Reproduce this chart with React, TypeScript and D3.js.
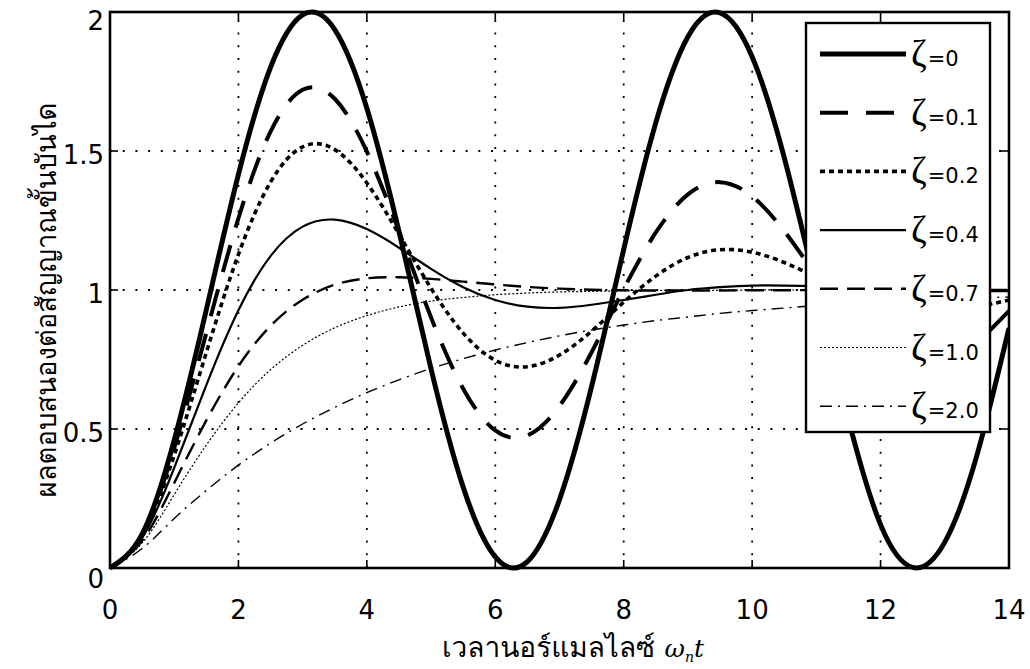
import * as d3 from "d3";

// normalised time ω_n t
const tValues = [
  0, 0.5, 1, 1.5, 2, 2.5, 3, 3.5, 4, 4.5, 5, 5.5, 6, 6.5, 7, 7.5, 8, 8.5, 9, 9.5,
  10, 10.5, 11, 11.5, 12, 12.5, 13, 13.5, 14,
];

// step response, one list per damping ratio
const zeta0 = [
  0, 0.122, 0.46, 0.929, 1.416, 1.801, 1.99, 1.937, 1.654, 1.211, 0.716, 0.291,
  0.04, 0.023, 0.246, 0.653, 1.146, 1.602, 1.911, 1.997, 1.839, 1.476, 1.004,
  0.534, 0.156, 0.002, 0.093, 0.405, 0.863,
];
const zeta01 = [
  0, 0.119, 0.431, 0.846, 1.258, 1.57, 1.72, 1.688, 1.498, 1.211, 0.901, 0.645,
  0.495, 0.477, 0.583, 0.776, 1.003, 1.207, 1.344, 1.388, 1.337, 1.212, 1.05,
  0.892, 0.774, 0.72, 0.736, 0.812, 0.925,
];
const zeta02 = [
  0, 0.115, 0.405, 0.775, 1.128, 1.388, 1.515, 1.505, 1.385, 1.201, 1.006, 0.845,
  0.747, 0.724, 0.766, 0.852, 0.956, 1.05, 1.117, 1.145, 1.136, 1.099, 1.046,
  0.993, 0.951, 0.927, 0.924, 0.939, 0.964,
];
const zeta04 = [
  0, 0.108, 0.36, 0.658, 0.927, 1.122, 1.228, 1.253, 1.219, 1.152, 1.076, 1.01,
  0.964, 0.94, 0.936, 0.947, 0.964, 0.983, 1.0, 1.01, 1.016, 1.016, 1.013,
  1.008, 1.004, 1.0, 0.997, 0.996, 0.996,
];
const zeta07 = [
  0, 0.098, 0.306, 0.531, 0.726, 0.871, 0.965, 1.019, 1.042, 1.046, 1.04, 1.03,
  1.02, 1.011, 1.005, 1.001, 0.999, 0.998, 0.998, 0.998, 0.999, 0.999, 1.0, 1.0,
  1.0, 1.0, 1.0, 1.0, 1.0,
];
const zeta10 = [
  0, 0.09, 0.264, 0.442, 0.594, 0.713, 0.801, 0.864, 0.908, 0.939, 0.96, 0.973,
  0.983, 0.989, 0.993, 0.995, 0.997, 0.998, 0.999, 0.999, 1.0, 1.0, 1.0, 1.0,
  1.0, 1.0, 1.0, 1.0, 1.0,
];
const zeta20 = [
  0, 0.07, 0.178, 0.279, 0.37, 0.449, 0.518, 0.578, 0.631, 0.677, 0.718, 0.753,
  0.784, 0.811, 0.835, 0.856, 0.874, 0.89, 0.903, 0.916, 0.926, 0.935, 0.944,
  0.951, 0.957, 0.962, 0.967, 0.971, 0.975,
];

const seriesLabels = ["0", "0.1", "0.2", "0.4", "0.7", "1.0", "2.0"];
const seriesValues = [zeta0, zeta01, zeta02, zeta04, zeta07, zeta10, zeta20];

const xTicks = [0, 2, 4, 6, 8, 10, 12, 14];
const yTicks = [0, 0.5, 1, 1.5, 2];
const yTickLabels = ["0", "0.5", "1", "1.5", "2"];

const yTitle = "ผลตอบสนองต่อสัญญาณขั้นบันได";
const xTitle = "เวลานอร์แมลไลซ์";

// line styles per series
const styles = [
  { w: 5, dash: "" },
  { w: 4, dash: "28,18" },
  { w: 3.6, dash: "5,4" },
  { w: 2.2, dash: "" },
  { w: 2.4, dash: "18,9" },
  { w: 1.2, dash: "2,2" },
  { w: 1.4, dash: "12,6,2,6" },
];

const W = 1030;
const H = 669;
const left = 110;
const right = 1009;
const top = 12;
const bottom = 568;

export default function App() {
  const x = d3.scaleLinear().domain([0, 14]).range([left, right]);
  const y = d3.scaleLinear().domain([0, 2]).range([bottom, top]);

  const line = d3
    .line<number>()
    .x((_, i) => x(tValues[i]))
    .y((d) => y(d))
    .curve(d3.curveNatural);

  const font = "'DejaVu Sans', Verdana, sans-serif";
  const thai = "'Loma', 'Garuda', 'Tlwg Typo', Tahoma, 'Noto Sans Thai', 'DejaVu Sans', sans-serif";
  const greek = "'DejaVu Serif', 'Liberation Serif', serif";

  const legX = 806;
  const legY = 23;
  const legW = 184;
  const legH = 409;

  return (
    <div style={{ position: "absolute", left: 0, top: 0 }}>
      <svg width={W} height={H} style={{ display: "block", background: "#fff" }}>
        <defs>
          <clipPath id="plot">
            <rect x={left} y={top - 4} width={right - left} height={bottom - top + 8} />
          </clipPath>
        </defs>

        {/* grid */}
        <g stroke="#000" strokeWidth={1.8} strokeDasharray="2,10.7">
          {xTicks.slice(1, -1).map((t) => (
            <line key={"gx" + t} x1={x(t)} x2={x(t)} y1={bottom} y2={top} />
          ))}
          {yTicks.slice(1, -1).map((v) => (
            <line key={"gy" + v} x1={left} x2={right} y1={y(v)} y2={y(v)} />
          ))}
        </g>

        {/* curves */}
        <g clipPath="url(#plot)" fill="none" stroke="#000" strokeLinejoin="round">
          {seriesValues.map((vals, i) => (
            <path
              key={i}
              d={line(vals) || ""}
              strokeWidth={styles[i].w}
              strokeDasharray={styles[i].dash || undefined}
            />
          ))}
        </g>

        {/* ticks */}
        <g stroke="#000" strokeWidth={1.6}>
          {xTicks.map((t) => (
            <g key={"tx" + t}>
              <line x1={x(t)} x2={x(t)} y1={bottom} y2={bottom - 8} />
              <line x1={x(t)} x2={x(t)} y1={top} y2={top + 8} />
            </g>
          ))}
          {yTicks.map((v) => (
            <g key={"ty" + v}>
              <line x1={left} x2={left + 8} y1={y(v)} y2={y(v)} />
              <line x1={right} x2={right - 8} y1={y(v)} y2={y(v)} />
            </g>
          ))}
        </g>

        {/* frame */}
        <rect
          x={left}
          y={top}
          width={right - left}
          height={bottom - top}
          fill="none"
          stroke="#000"
          strokeWidth={2.6}
        />

        {/* tick labels */}
        <g fontFamily={font} fontSize={26} fill="#000">
          {xTicks.map((t) => (
            <text key={"lx" + t} x={x(t)} y={619} textAnchor="middle">
              {t}
            </text>
          ))}
          {yTicks.map((v, i) => (
            <text
              key={"ly" + v}
              x={left - 6}
              y={Math.max(y(v) + 13, 30) + (i === 0 ? 7 : 0)}
              textAnchor="end"
            >
              {yTickLabels[i]}
            </text>
          ))}
        </g>

        {/* axis titles */}
        <text
          transform="translate(56,300) rotate(-90)"
          textAnchor="middle"
          fontFamily={thai}
          fontSize={27.5}
          fill="#000"
        >
          {yTitle}
        </text>
        <text x={573} y={657} textAnchor="middle" fontFamily={thai} fontSize={28} fill="#000">
          {xTitle}{" "}
          <tspan fontFamily={greek} fontStyle="italic" fontSize={25}>
            ω
          </tspan>
          <tspan fontFamily={greek} fontStyle="italic" fontSize={14} dy={5}>
            n
          </tspan>
          <tspan fontFamily={greek} fontStyle="italic" fontSize={25} dy={-5}>
            t
          </tspan>
        </text>

        {/* legend */}
        <rect x={legX} y={legY} width={legW} height={legH} fill="#fff" stroke="#000" strokeWidth={2.4} />
        {seriesLabels.map((lab, i) => {
          const ly = legY + 31 + i * 58.7;
          return (
            <g key={"leg" + i}>
              <line
                x1={legX + 14}
                x2={legX + 100}
                y1={ly}
                y2={ly}
                stroke="#000"
                strokeWidth={styles[i].w}
                strokeDasharray={styles[i].dash || undefined}
              />
              <text x={legX + 105} y={ly + 12} fill="#000">
                <tspan fontFamily="'Liberation Serif', 'DejaVu Serif', serif" fontSize={38}>
                  ζ
                </tspan>
                <tspan fontFamily={font} fontSize={21} dx={1}>
                  ={lab}
                </tspan>
              </text>
            </g>
          );
        })}
      </svg>
    </div>
  );
}
